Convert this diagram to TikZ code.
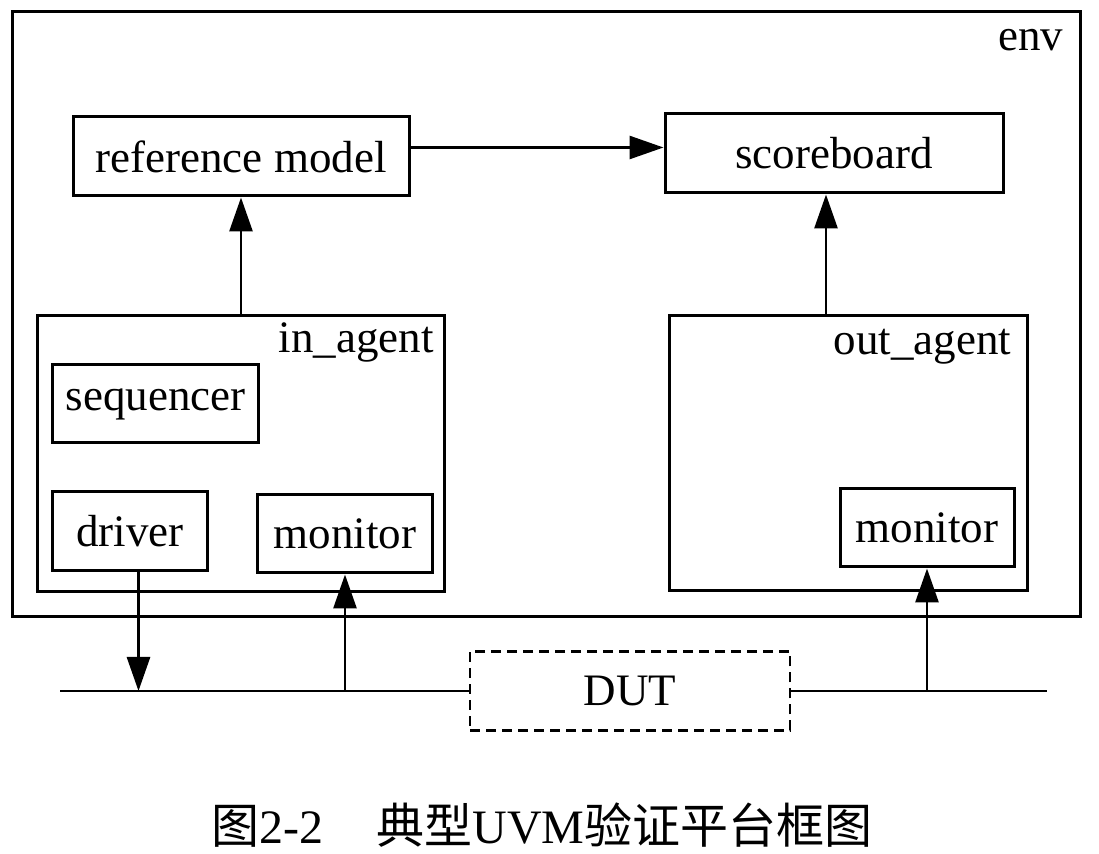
\documentclass[tikz,border=0pt]{standalone}
\usepackage{fontspec}
\setmainfont{Liberation Serif}
\newfontfamily\cjk{Noto Sans CJK SC}
\usetikzlibrary{positioning,arrows.meta}

\begin{document}
\begin{tikzpicture}[
  x=0.5pt, y=-0.5pt,
  font=\fontsize{22.5}{26}\selectfont,
  box/.style={draw, line width=1.5pt, inner sep=0pt, align=center},
  lbl/.style={inner sep=0pt, anchor=base east},
  arr/.style={line width=1.4pt, -{Triangle[length=17pt,width=11.5pt]}},
  bus/.style={line width=1.1pt}
]
\useasboundingbox (0,0) rectangle (1099,854);
% env and its two top boxes
\node[box, minimum width=534pt, minimum height=302.5pt] (env) at (546,314.5) {};
\node[lbl] (envl) at ([xshift=-9pt,yshift=-20pt]env.north east) {env};
\node[box, minimum width=168pt, minimum height=39.5pt] (refm) at (241,156.5) {reference model};
\node[box, minimum width=169pt, minimum height=39.5pt, right=126.5pt of refm, yshift=1.5pt] (score) {scoreboard};
% agents
\node[box, minimum width=203.5pt, minimum height=138pt, below=58.5pt of refm] (inag) {};
\node[lbl] (inagl) at ([xshift=-6pt,yshift=-19pt]inag.north east) {in\_agent};
\node[box, minimum width=103pt, minimum height=39pt, below right=24.5pt and 7.5pt of inag.north west] (seq) {sequencer};
\node[box, minimum width=77.5pt, minimum height=39.5pt, below right=23pt and 0pt of seq.south west] (drv) {driver};
\node[box, minimum width=87.5pt, minimum height=39pt, above left=9.5pt and 6pt of inag.south east] (mon1) {monitor};
\node[box, minimum width=179pt, minimum height=137.5pt, below=60pt of score, xshift=7pt] (outag) {};
\node[lbl] (outagl) at ([xshift=-8.5pt,yshift=-20pt]outag.north east) {out\_agent};
\node[box, minimum width=87pt, minimum height=39pt, above left=12pt and 6.5pt of outag.south east] (mon2) {monitor};
% DUT and bus
\coordinate (busl) at (60,691);
\coordinate (busr) at (1047,691);
\node[box, line width=1.3pt, dash pattern=on 5pt off 3pt, minimum width=160pt, minimum height=39.5pt] (dut) at (630,691) {DUT};
\draw[bus] (busl) -- (dut.west) (dut.east) -- (busr);
% connectors
\draw[arr] ([yshift=4.5pt]refm.east) -- ([yshift=4.5pt]refm.east -| score.west);
\draw[arr] (inag.north) -- (inag.north |- refm.south);
\draw[arr] ([xshift=-4pt]score.south |- outag.north) -- ([xshift=-4pt]score.south);
\draw[arr] ([xshift=4.25pt]drv.south) -- ([xshift=4.25pt]drv.south |- busl);
\draw[arr] (mon1.south |- busl) -- (mon1.south);
\draw[arr] (mon2.south |- busl) -- (mon2.south);
% caption
\node[font=\fontsize{24}{28}\selectfont] (cap) at (542,825) {{\cjk 图}2-2\hspace{1.1em}{\cjk 典型}UVM{\cjk 验证平台框图}};
\end{tikzpicture}
\end{document}
